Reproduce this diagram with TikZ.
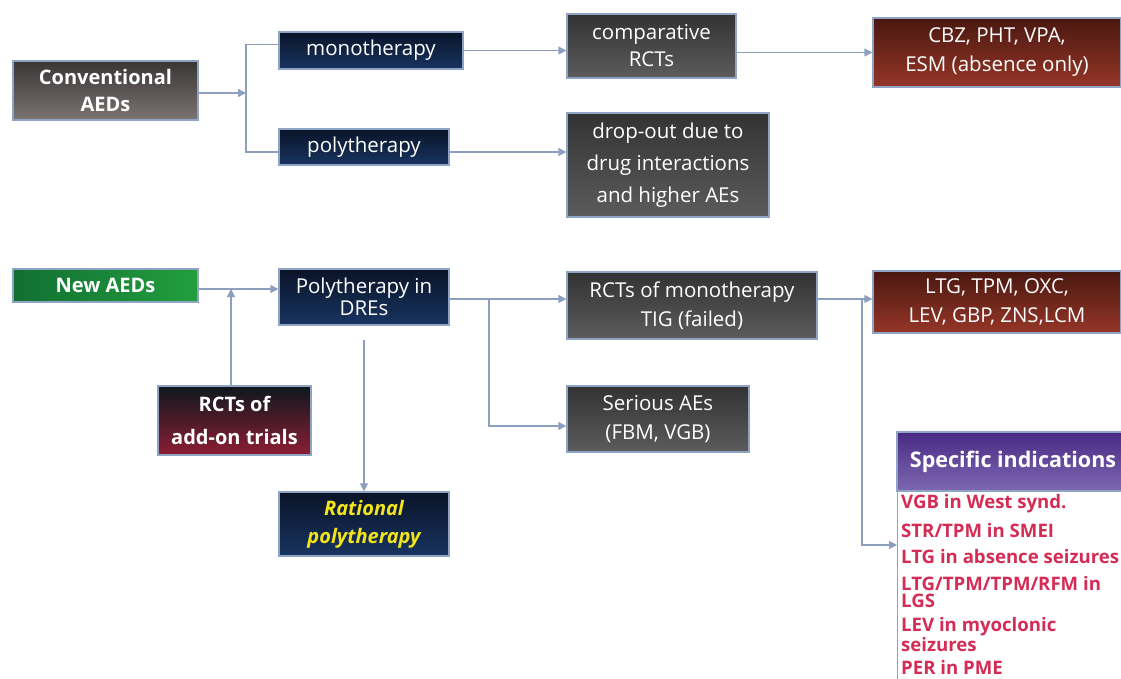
\documentclass[tikz,border=0pt]{standalone}
\usepackage{fontspec}
\setmainfont{Open Sans}
\usetikzlibrary{arrows.meta,calc}
\definecolor{ln}{HTML}{8C9FBE}
\definecolor{bd}{HTML}{8FA3C4}
\definecolor{listred}{HTML}{D42C55}
\definecolor{yel}{HTML}{F2E51C}
\tikzset{
  box/.style={draw=bd, line width=1.3pt, inner sep=0pt, align=center, text=white,
    font=\fontsize{20.5}{28}\selectfont},
  graybox/.style={box, top color={rgb,255:red,58;green,54;blue,54}, bottom color={rgb,255:red,122;green,116;blue,114}, font=\bfseries\fontsize{20}{27}\selectfont},
  darkbox/.style={box, top color=black!80, bottom color=black!64},
  navybox/.style={box, top color={rgb,255:red,10;green,20;blue,40}, bottom color={rgb,255:red,24;green,52;blue,96}},
  redbox/.style={box, top color={rgb,255:red,74;green,24;blue,16}, bottom color={rgb,255:red,150;green,54;blue,40}},
  greenbox/.style={box, left color={rgb,255:red,18;green,112;blue,50}, right color={rgb,255:red,34;green,158;blue,62}, font=\bfseries\fontsize{20}{27}\selectfont},
  addonbox/.style={box, top color={rgb,255:red,14;green,24;blue,30}, middle color={rgb,255:red,38;green,48;blue,48}, bottom color={rgb,255:red,140;green,30;blue,52}, font=\bfseries\fontsize{20}{33}\selectfont},
  purplebox/.style={box, top color={rgb,255:red,72;green,42;blue,132}, bottom color={rgb,255:red,126;green,104;blue,178}, font=\bfseries\fontsize{21.5}{27}\selectfont},
  listbox/.style={draw=bd, line width=1.3pt, fill=white, inner sep=0pt},
  conn/.style={draw=ln, line width=1.3pt, -{Triangle[length=8pt,width=8pt]}},
  plain/.style={draw=ln, line width=1.3pt},
}
\begin{document}
\begin{tikzpicture}[x=1pt,y=-1pt]
\useasboundingbox (0,0) rectangle (1121,678);
% upper part
\node[graybox, minimum width=185pt, minimum height=59pt] (conv) at (105.5,90.5) {Conventional\\AEDs};
\node[navybox, minimum width=184pt, minimum height=37pt] (mono) at (371,50.5) {monotherapy};
\node[navybox, minimum width=170pt, minimum height=36pt] (poly) at (364,147) {polytherapy};
\node[darkbox, minimum width=169pt, minimum height=64pt, font=\fontsize{20.5}{27}\selectfont] (comp) at (651.5,46) {comparative\\RCTs};
\node[redbox, minimum width=248pt, minimum height=69pt, font=\fontsize{20.5}{29}\selectfont] (cbz) at (997,52.5) {CBZ, PHT, VPA,\\ESM (absence only)};
\node[darkbox, minimum width=202pt, minimum height=104pt, font=\fontsize{20.5}{32}\selectfont] (drop) at (668,165) {drop-out due to\\drug interactions\\and higher AEs};
% lower part
\node[greenbox, minimum width=185pt, minimum height=33pt] (newaed) at (105.5,285.5) {New AEDs};
\node[navybox, minimum width=170pt, minimum height=56pt, font=\fontsize{20.5}{22}\selectfont] (dre) at (364,297) {Polytherapy in\\DREs};
\node[addonbox, minimum width=153pt, minimum height=69pt] (addon) at (234.5,420.5) {RCTs of\\add-on trials};
\node[navybox, minimum width=170pt, minimum height=64pt, text=yel, font=\bfseries\itshape\fontsize{20}{28}\selectfont] (rational) at (364,524) {Rational\\polytherapy};
\node[darkbox, minimum width=250pt, minimum height=67pt, font=\fontsize{20.5}{29}\selectfont] (rctmono) at (692,305.5) {RCTs of monotherapy\\TIG (failed)};
\node[darkbox, minimum width=182pt, minimum height=66pt, font=\fontsize{20.5}{29}\selectfont] (serious) at (658,419) {Serious AEs\\(FBM, VGB)};
\node[redbox, minimum width=248pt, minimum height=62pt, font=\fontsize{20.5}{29}\selectfont] (ltg) at (997,302) {LTG, TPM, OXC,\\LEV, GBP, ZNS,LCM};
\node[listbox, anchor=north west, minimum width=232pt, minimum height=199pt] (list) at (897,491) {};
\node[purplebox, minimum width=232pt, minimum height=59pt] (spec) at (1013,461.5) {Specific indications};
\node[anchor=north west, inner sep=0pt, align=left, text=listred, font=\bfseries\fontsize{18.6}{17}\selectfont] (items) at (901,494)
 {VGB in West synd.\\[9.5pt]
  STR/TPM in SMEI\\[9.5pt]
  LTG in absence seizures\\[9.5pt]
  LTG/TPM/TPM/RFM in\\
  LGS\\[7.5pt]
  LEV in myoclonic\\
  seizures\\[6pt]
  PER in PME};
% connectors upper
\coordinate (b1) at (246,93);
\draw[conn] (conv.east |- b1) -- (b1);
\draw[plain] ([yshift=6pt]mono.west) -| (b1) |- ([yshift=-5pt]poly.west);
\draw[conn] (mono.east) -- (mono.east -| comp.west);
\draw[conn] (cbz.west -| comp.east) -- (cbz.west);
\draw[conn] ([yshift=-5pt]poly.east) -- ([yshift=-5pt]poly.east -| drop.west);
% connectors lower
\coordinate (b0) at (231,289);
\draw[conn] (newaed.east |- b0) -- (b0 -| dre.west);
\draw[conn] (addon.north -| b0) -- (b0);
\draw[conn] ([yshift=-14pt]dre.south) -- (rational.north);
\coordinate (b2) at (489,299);
\draw[conn] (dre.east |- b2) -- (b2 -| rctmono.west);
\draw[conn] (b2) |- ([yshift=-7pt]serious.west);
\coordinate (b3) at (862,299);
\draw[conn] (rctmono.east |- b3) -- (b3 -| ltg.west);
\draw[conn] (b3) |- ([yshift=-54pt]list.north west);
\end{tikzpicture}
\end{document}
